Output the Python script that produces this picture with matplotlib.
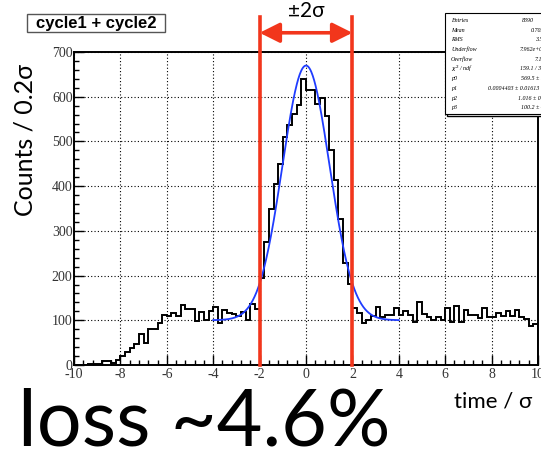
import numpy as np
import matplotlib
matplotlib.use("Agg")
import matplotlib.pyplot as plt
from matplotlib.patches import Rectangle

plt.rcParams["axes.unicode_minus"] = False

# histogram: 100 bins of 0.2 sigma between -10 and 10
edges = np.linspace(-10, 10, 101)
counts = [0, 0, 0, 3, 3, 3, 8, 8, 5, 12,
          21, 30, 38, 47, 70, 50, 80, 80, 93, 111,
          110, 116, 110, 135, 125, 125, 98, 118, 101, 120,
          130, 94, 123, 117, 113, 110, 119, 101, 136, 126,
          194, 275, 349, 405, 450, 511, 536, 561, 582, 640,
          614, 614, 584, 597, 556, 481, 414, 326, 229, 182,
          128, 117, 93, 101, 110, 130, 108, 112, 112, 127,
          112, 121, 112, 97, 142, 113, 107, 101, 108, 101,
          127, 97, 133, 96, 123, 111, 111, 106, 128, 108,
          108, 117, 110, 121, 110, 123, 108, 102, 88, 92]

# gaus + pol0 fit parameters
p0, p1, p2, p3 = 569.5, 0.0004403, 1.016, 100.2
fit_range = (-4, 4)

stat_names = ["Entries", "Mean", "RMS", "Underflow", "Overflow",
              r"$\chi^2$ / ndf", "p0", "p1", "p2", "p3"]
stat_values = ["8390", "0.7028", "3.503", "7.962e+03", "7.1e+03",
               "159.1 / 36", "569.5 \u00b1 9.1", "0.0004403 \u00b1 0.01613",
               "1.016 \u00b1 0.016", "100.2 \u00b1 4.2"]
stat_x = [522, 531, 535, 520, 535, 520, 521, 488, 518, 521]

red = "#f2361c"
W, H = 541, 457

fig = plt.figure(figsize=(W / 100, H / 100), dpi=100)
ax = fig.add_axes([74 / W, 1 - 365 / H, 464 / W, 313 / H])

ax.stairs(counts, edges, color="black", lw=1.4)

xf = np.linspace(fit_range[0], fit_range[1], 400)
yf = p0 * np.exp(-0.5 * ((xf - p1) / p2) ** 2) + p3
ax.plot(xf, yf, color="#1f3cff", lw=1.3)

ax.set_xlim(-10, 10)
ax.set_ylim(0, 700)
ax.set_xticks(np.arange(-10, 11, 2))
ax.set_xticks(np.arange(-10, 10.01, 0.4), minor=True)
ax.set_yticks(np.arange(0, 701, 100))
ax.set_yticks(np.arange(0, 701, 20), minor=True)
ax.tick_params(which="both", direction="in", top=False, right=False,
               width=1, colors="black", labelcolor="#333333",
               labelsize=10)
ax.tick_params(which="major", length=7)
ax.tick_params(which="minor", length=3.5)
ax.tick_params(axis="x", pad=2)
ax.tick_params(axis="y", pad=1)
for lab in ax.get_xticklabels() + ax.get_yticklabels():
    lab.set_family("Liberation Serif")
ax.grid(True, which="major", color="black", lw=0.8, linestyle=(0, (1, 2)))
for s in ax.spines.values():
    s.set_linewidth(1.4)

# +-2 sigma window
for xv in (-2, 2):
    ax.axvline(xv, ymin=0, ymax=(365 - 17) / 313, color=red, lw=2.6,
               clip_on=False, zorder=5)
ax.annotate("", xy=(-2, 743), xytext=(2, 743), annotation_clip=False,
            arrowprops=dict(arrowstyle="<|-|>,head_length=1.0,head_width=0.5",
                            color=red, lw=2.6, mutation_scale=12,
                            shrinkA=0, shrinkB=0))
ax.text(0, 792, "\u00b12\u03c3", ha="center", va="center", fontsize=15,
        family="Lato", clip_on=False)

# title box
fig.patches.append(Rectangle((27 / W, 1 - 32 / H), 138 / W, 18 / H,
                             transform=fig.transFigure, fc="white",
                             ec="#555555", lw=1))
fig.text(96 / W, 1 - 23.5 / H, "cycle1 + cycle2", ha="center", va="center",
         fontsize=12, fontweight="bold", family="Liberation Sans")

# stats box
fig.patches.append(Rectangle((447 / W, 1 - 116 / H), 110 / W, 101 / H,
                             transform=fig.transFigure, fc="white",
                             ec="black", lw=1, zorder=6))
fig.patches.append(Rectangle((445 / W, 1 - 114 / H), 110 / W, 101 / H,
                             transform=fig.transFigure, fc="white",
                             ec="black", lw=0.8, zorder=7))
for i, (name, val, vx) in enumerate(zip(stat_names, stat_values, stat_x)):
    y = 1 - (20.5 + 9.7 * i) / H
    fig.text(451 / W, y, name, ha="left", va="center", fontsize=4.3,
             family="Liberation Serif", style="italic", zorder=8)
    fig.text(vx / W, y, val, ha="left", va="center", fontsize=4.3,
             family="Liberation Serif", style="italic", zorder=8)

fig.text(25 / W, 1 - 140 / H, "Counts / 0.2\u03c3", rotation=90,
         ha="center", va="center", fontsize=18, family="Lato")
fig.text(493 / W, 1 - 401 / H, "time / \u03c3", ha="center", va="center",
         fontsize=16, family="Lato")
fig.text(18 / W, 1 - 446 / H, "loss ~4.6%", ha="left", va="baseline",
         fontsize=57, family="Lato")

fig.savefig("out.png", dpi=100)
